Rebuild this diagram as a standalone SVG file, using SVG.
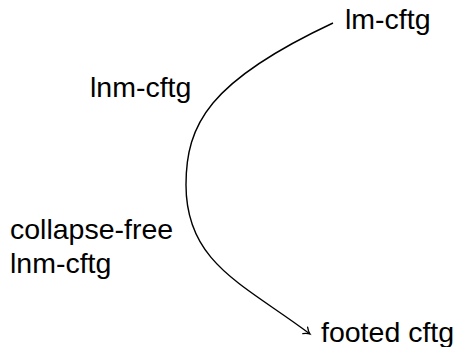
<svg xmlns="http://www.w3.org/2000/svg" width="457" height="347" viewBox="0 0 457 347">
<style>
.lbl{font-family:"Liberation Sans",Arial,sans-serif;font-size:28.5px;fill:#000}
.edge{fill:none;stroke:#000;stroke-width:1.4}
</style>
<defs>
<marker id="to" markerWidth="12" markerHeight="12" refX="7" refY="5" orient="auto" markerUnits="userSpaceOnUse" viewBox="0 0 12 10">
<path d="M1,1 Q4,4 7,5 Q4,6 1,9" fill="none" stroke="#000" stroke-width="1.3" stroke-linecap="round"/>
</marker>
</defs>
<rect width="457" height="347" fill="#fff"/>
<g id="connectors">
<path class="edge" d="M333,23 C209,81 186,124.5 186,185 C186,263 243.4,284 310,334" marker-end="url(#to)"/>
</g>
<g id="lm-cftg"><text class="lbl" x="345" y="29">lm-cftg</text></g>
<g id="lnm-cftg"><text class="lbl" x="90" y="97">lnm-cftg</text></g>
<g id="cf-lnm-cftg"><text class="lbl" x="10" y="239">collapse-free</text><text class="lbl" x="10" y="273">lnm-cftg</text></g>
<g id="footed-cftg"><text class="lbl" x="321" y="342">footed cftg</text></g>
</svg>
